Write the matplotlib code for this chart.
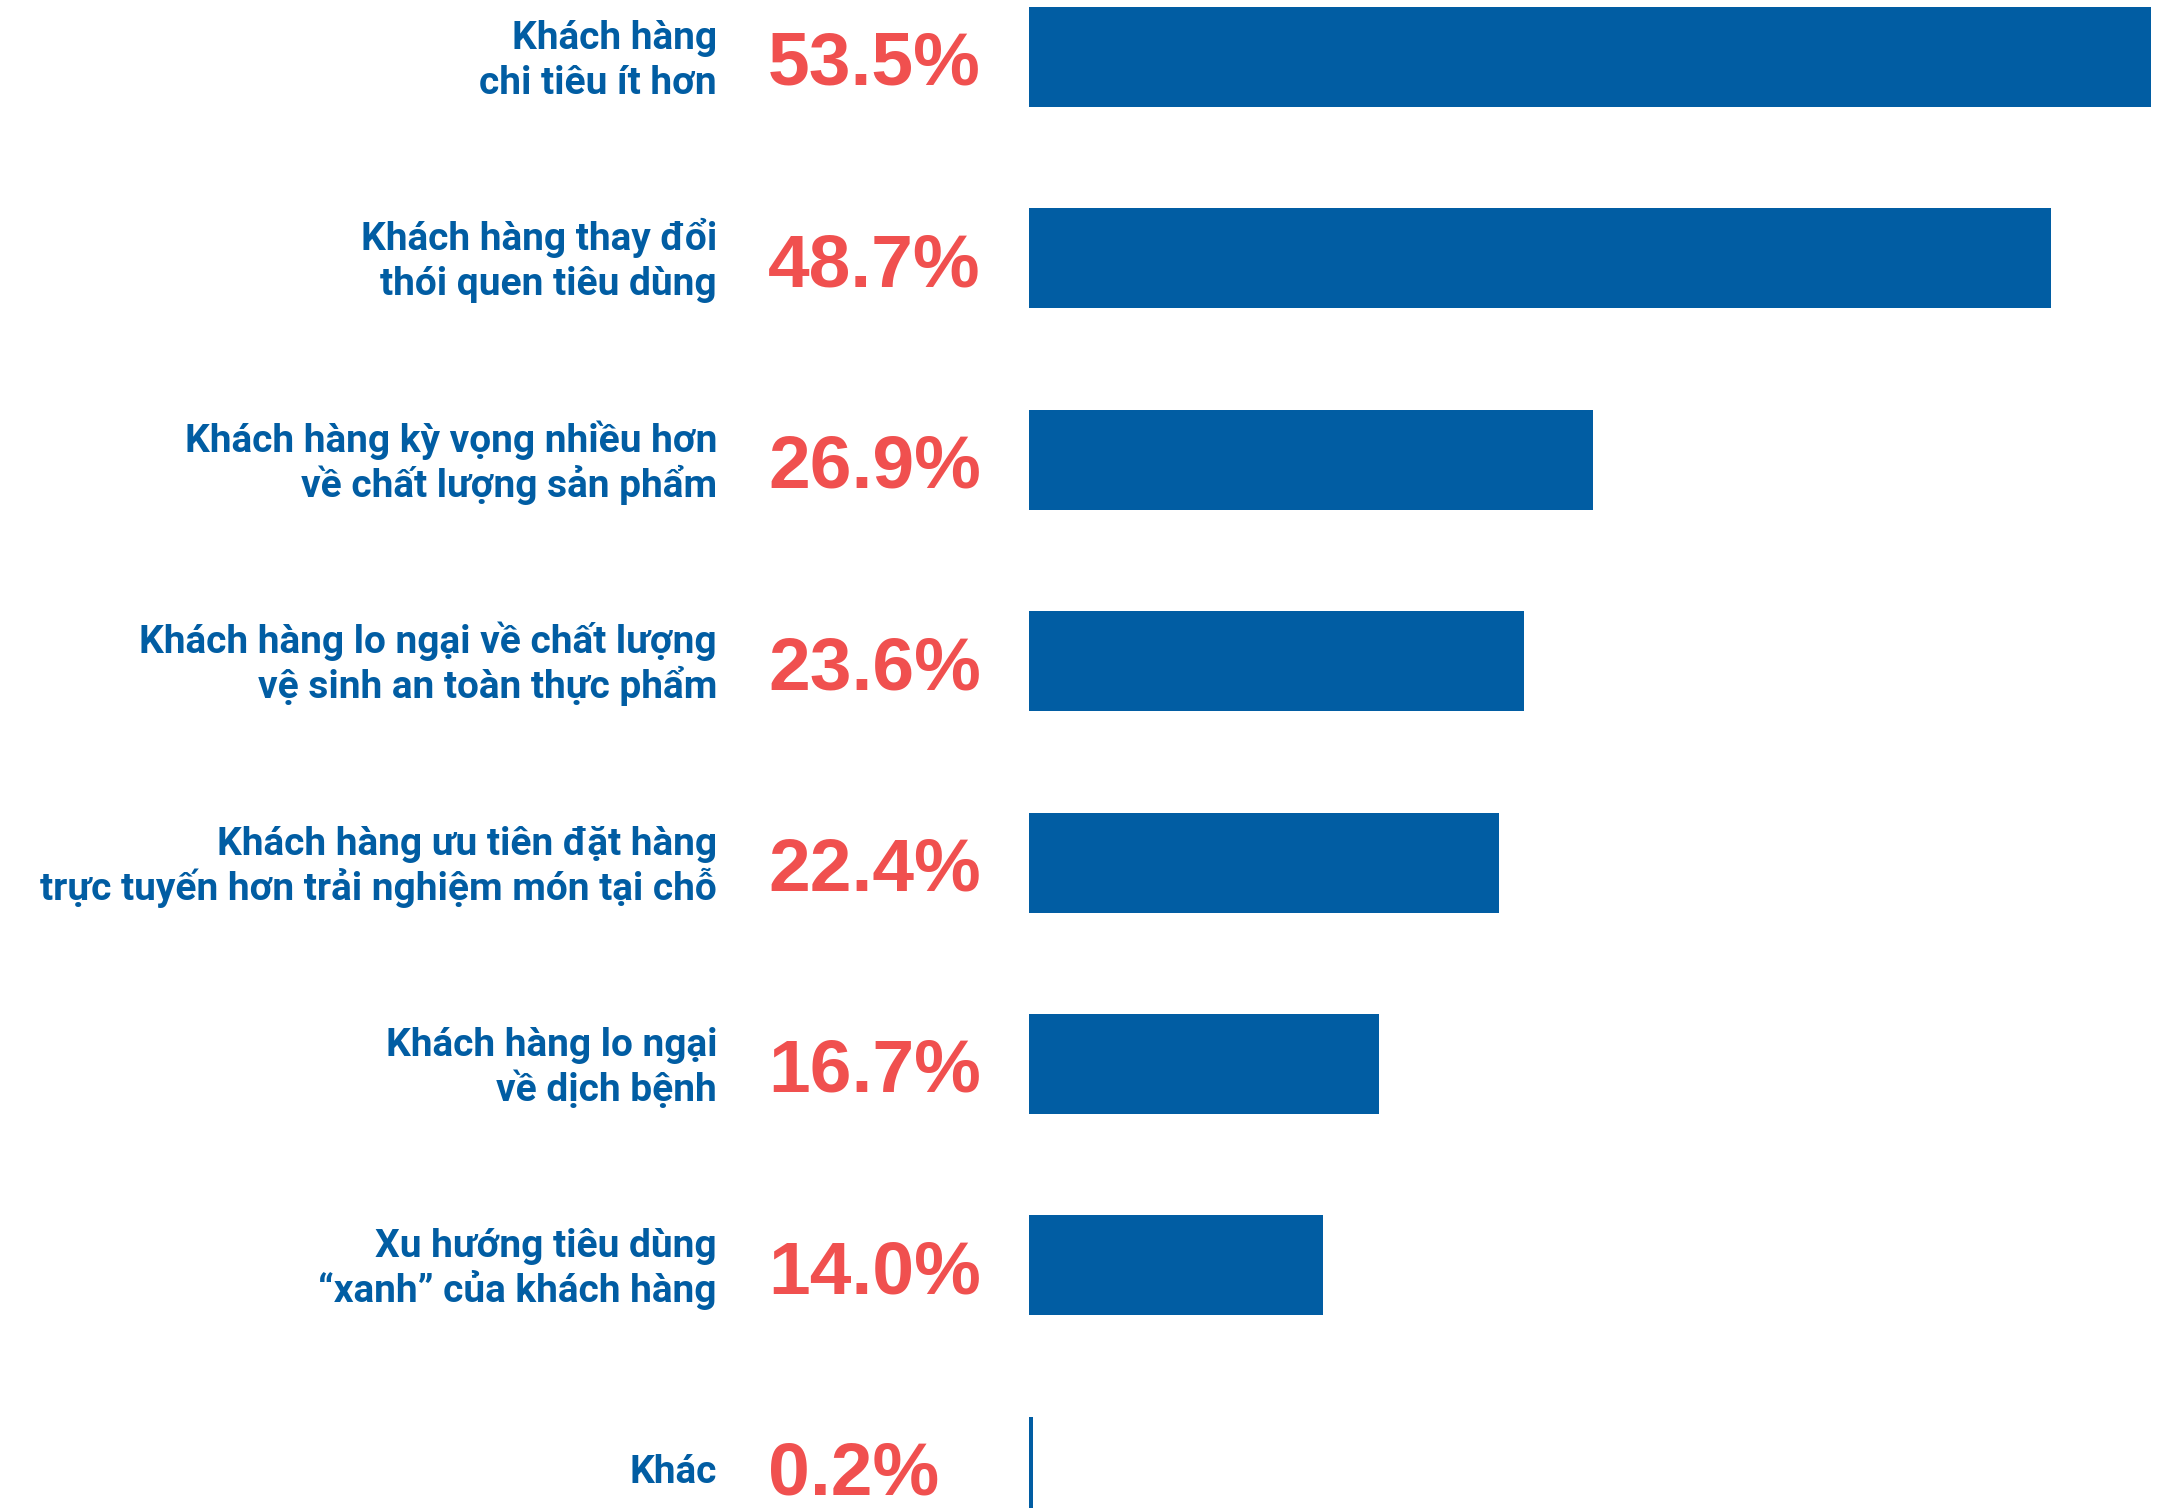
import matplotlib
matplotlib.use("Agg")
import matplotlib.pyplot as plt
import matplotlib.transforms as mtrans

labels = [
    "Khách hàng\nchi tiêu ít hơn",
    "Khách hàng thay đổi\nthói quen tiêu dùng",
    "Khách hàng kỳ vọng nhiều hơn\nvề chất lượng sản phẩm",
    "Khách hàng lo ngại về chất lượng\nvệ sinh an toàn thực phẩm",
    "Khách hàng ưu tiên đặt hàng\ntrực tuyến hơn trải nghiệm món tại chỗ",
    "Khách hàng lo ngại\nvề dịch bệnh",
    "Xu hướng tiêu dùng\n“xanh” của khách hàng",
    "Khác",
]
values = [53.5, 48.7, 26.9, 23.6, 22.4, 16.7, 14.0, 0.2]

BLUE = "#015DA3"
RED = "#F0504F"

W, H = 2157, 1508
PITCH = 201.4  # px per category
fig = plt.figure(figsize=(W / 100, H / 100), dpi=100)
ax = fig.add_axes([1029 / W, 0, 1 - 1029 / W, 1])

pos = list(range(len(values)))
ax.barh(pos, values, height=0.497, color=BLUE)
ax.set_xlim(0, (W - 1029) / 20.98)
ax.set_ylim(7.205, -0.283)
ax.axis("off")

tr = mtrans.blended_transform_factory(fig.transFigure, ax.transData)
lab_font = dict(color=BLUE, fontsize=28, fontweight="bold",
                family=["Roboto", "DejaVu Sans"], transform=tr,
                ha="right", va="baseline", clip_on=False)
for i, (lab, v) in enumerate(zip(labels, values)):
    lines = lab.split("\n")
    if len(lines) == 2:
        ax.text(717 / W, i - 8 / PITCH, lines[0], **lab_font)
        ax.text(717 / W, i + 37 / PITCH, lines[1], **lab_font)
    else:
        ax.text(717 / W, i + 16 / PITCH, lines[0], **lab_font)
    ax.text(768 / W, i + 28 / PITCH, f"{v:.1f}%", transform=tr,
            ha="left", va="baseline", color=RED, fontsize=54,
            fontweight="bold", family=["Liberation Sans", "DejaVu Sans"],
            clip_on=False)

fig.savefig("out.png", dpi=100)
